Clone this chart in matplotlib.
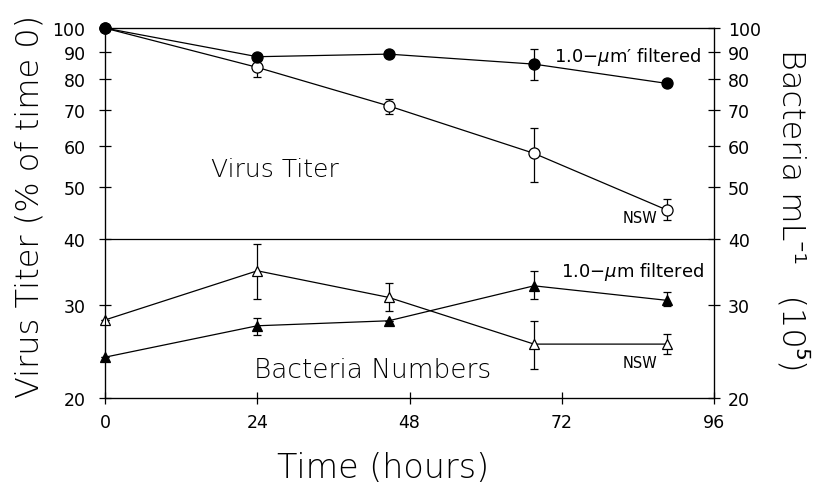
import matplotlib
matplotlib.use("Agg")
import matplotlib.pyplot as plt
import numpy as np

plt.rcParams['font.family'] = ['DejaVu Sans']
TITLE_FONT = ['DejaVu Sans', 'Noto Sans']
TITLE_WEIGHT = 200

# sampling times (hours)
hours = [0, 24, 44.7, 67.6, 88.6]

# virus titer, % of time 0
titer_filtered = [100, 88.3, 89.3, 85.5, 78.6]
titer_filtered_lo = [100, 88.3, 89.3, 79.7, 78.6]
titer_filtered_hi = [100, 88.3, 89.3, 91.3, 78.6]

titer_nsw = [100, 84.3, 71.3, 58.0, 45.3]
titer_nsw_lo = [100, 81.0, 68.8, 51.3, 43.4]
titer_nsw_hi = [100, 86.1, 73.4, 64.7, 47.5]

# bacteria per mL (x 10^5)
bact_filtered = [23.9, 27.4, 28.0, 32.6, 30.6]
bact_filtered_lo = [23.9, 26.3, 28.0, 30.8, 29.8]
bact_filtered_hi = [23.9, 28.4, 28.0, 34.7, 31.8]

bact_nsw = [28.1, 34.8, 31.0, 25.3, 25.3]
bact_nsw_lo = [28.1, 30.8, 29.2, 22.7, 24.2]
bact_nsw_hi = [28.1, 39.1, 33.0, 28.0, 26.4]

yticks = [20, 30, 40, 50, 60, 70, 80, 90, 100]
xticks = [0, 24, 48, 72, 96]


def err(vals, lo, hi):
    v = np.array(vals)
    return [v - np.array(lo), np.array(hi) - v]


fig = plt.figure(figsize=(8.2, 4.85), dpi=100)
ax = fig.add_axes([0.128, 0.177, 0.743, 0.763])

common = dict(color='black', lw=0.9, capsize=3, elinewidth=0.9, capthick=0.9,
              markeredgecolor='black', markeredgewidth=0.9, zorder=3, clip_on=False)

# open symbols first so the filled ones sit on top at time 0
ax.errorbar(hours, titer_nsw, yerr=err(titer_nsw, titer_nsw_lo, titer_nsw_hi),
            fmt='-o', markersize=8, markerfacecolor='white', **common)
ax.errorbar(hours, titer_filtered, yerr=err(titer_filtered, titer_filtered_lo, titer_filtered_hi),
            fmt='-o', markersize=8, markerfacecolor='black', **common)
ax.errorbar(hours, bact_nsw, yerr=err(bact_nsw, bact_nsw_lo, bact_nsw_hi),
            fmt='-^', markersize=7.5, markerfacecolor='white', **common)
ax.errorbar(hours, bact_filtered, yerr=err(bact_filtered, bact_filtered_lo, bact_filtered_hi),
            fmt='-^', markersize=7.5, markerfacecolor='black', **common)

ax.axhline(40, color='black', lw=0.9)

ax.set_yscale('log')
ax.set_ylim(20, 100)
ax.set_xlim(0, 96)
ax.set_xticks(xticks)
ax.set_yticks(yticks)
ax.set_yticklabels([str(t) for t in yticks])
ax.yaxis.set_minor_locator(matplotlib.ticker.NullLocator())
for s in ax.spines.values():
    s.set_linewidth(0.9)
ax.tick_params(direction='inout', length=8, width=0.9, labelsize=12.5)
ax.tick_params(axis='y', pad=10)
ax.tick_params(axis='x', pad=7)

ax2 = ax.twinx()
ax2.set_yscale('log')
ax2.set_ylim(20, 100)
ax2.set_yticks(yticks)
ax2.set_yticklabels([str(t) for t in yticks])
ax2.yaxis.set_minor_locator(matplotlib.ticker.NullLocator())
ax2.tick_params(direction='inout', length=8, width=0.9, labelsize=12.5, pad=6)

ax.set_xlabel('Time (hours)', fontsize=24, family=TITLE_FONT, fontweight=TITLE_WEIGHT)
ax.xaxis.set_label_coords(0.457, -0.142)
ax.set_ylabel('Virus Titer (% of time 0)', fontsize=23, family=TITLE_FONT,
              fontweight=TITLE_WEIGHT)
ax.yaxis.set_label_coords(-0.1, 0.52)
ax2.set_ylabel('Bacteria mL\u207b\u00b9   (10\u2075)', fontsize=23, family=TITLE_FONT,
               fontweight=TITLE_WEIGHT, rotation=-90)
ax2.yaxis.set_label_coords(1.155, 0.51)

ax.text(26.8, 54.2, 'Virus Titer', fontsize=18, family=TITLE_FONT, fontweight=TITLE_WEIGHT,
        ha='center', va='center')
ax.text(42.2, 22.7, 'Bacteria Numbers', fontsize=19, family=TITLE_FONT, fontweight=TITLE_WEIGHT,
        ha='center', va='center')
ax.text(94, 88.5, '1.0\u2212$\\mu$m\u2032 filtered', fontsize=13, ha='right', va='center')
ax.text(94.4, 34.8, '1.0\u2212$\\mu$m filtered', fontsize=13, ha='right', va='center')
ax.text(87.1, 43.8, 'NSW', fontsize=10.5, ha='right', va='center')
ax.text(87.1, 23.4, 'NSW', fontsize=10.5, ha='right', va='center')

fig.savefig('out.png', dpi=100)
